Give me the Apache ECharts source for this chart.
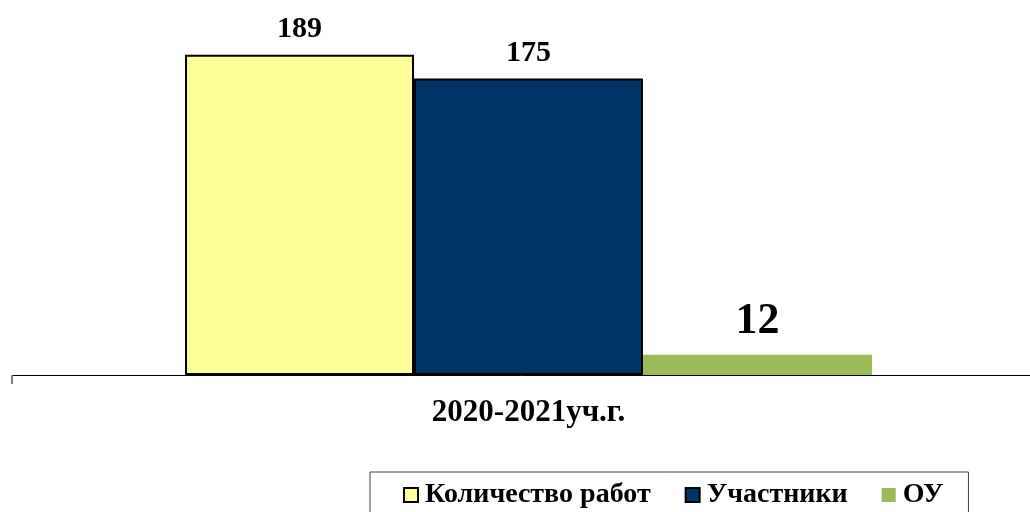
<!DOCTYPE html>
<html>
<head>
<meta charset="utf-8">
<script src="https://cdn.jsdelivr.net/npm/echarts@6/dist/echarts.min.js"></script>
<style>html,body{margin:0;padding:0;background:#fff;}#c{width:1030px;height:512px;}</style>
</head>
<body>
<div id="c"></div>
<script>
const categories = ['2020-2021уч.г.'];
const seriesNames = ['Количество работ', 'Участники', 'ОУ'];
const worksValues = [189];
const participantsValues = [175];
const schoolsValues = [12];

const FONT = '"Liberation Serif", "Times New Roman", serif';
const chart = echarts.init(document.getElementById('c'));
chart.setOption({
  animation: false,
  backgroundColor: '#fff',
  grid: { left: 12, width: 1033, top: 36, bottom: 137, containLabel: false, outerBoundsMode: 'none' },
  xAxis: {
    type: 'category',
    data: categories,
    axisLine: { lineStyle: { color: '#000', width: 1 } },
    axisTick: { show: true, length: 9, lineStyle: { color: '#808080', width: 2 } },
    axisLabel: { margin: 22, color: '#000', fontFamily: FONT, fontWeight: 'bold', fontSize: 31 }
  },
  yAxis: { type: 'value', min: 0, max: 200, show: false, splitLine: { show: false } },
  legend: {
    left: 370, top: 472,
    padding: [9, 25, 12, 33],
    itemGap: 34,
    itemWidth: 14, itemHeight: 14,
    icon: 'rect',
    borderColor: '#404040', borderWidth: 1,
    textStyle: { color: '#000', fontFamily: FONT, fontWeight: 'bold', fontSize: 28, padding: [0,0,0,2] },
    data: seriesNames
  },
  series: [
    {
      name: seriesNames[0], type: 'bar', data: worksValues,
      barGap: '0%', barCategoryGap: '33.5%',
      itemStyle: { color: '#FFFF99', borderColor: '#000', borderWidth: 2 },
      label: { show: true, position: 'top', distance: 10, color: '#000', fontFamily: FONT, fontWeight: 'bold', fontSize: 30 }
    },
    {
      name: seriesNames[1], type: 'bar', data: participantsValues,
      barGap: '0%', barCategoryGap: '33.5%',
      itemStyle: { color: '#003366', borderColor: '#000', borderWidth: 2 },
      label: { show: true, position: 'top', distance: 10, color: '#000', fontFamily: FONT, fontWeight: 'bold', fontSize: 30 }
    },
    {
      name: seriesNames[2], type: 'bar', data: schoolsValues,
      barGap: '0%', barCategoryGap: '33.5%',
      itemStyle: { color: '#9BBB59', borderWidth: 0 },
      label: { show: true, position: 'top', distance: 11, color: '#000', fontFamily: FONT, fontWeight: 'bold', fontSize: 44 }
    }
  ]
});
</script>
</body>
</html>
